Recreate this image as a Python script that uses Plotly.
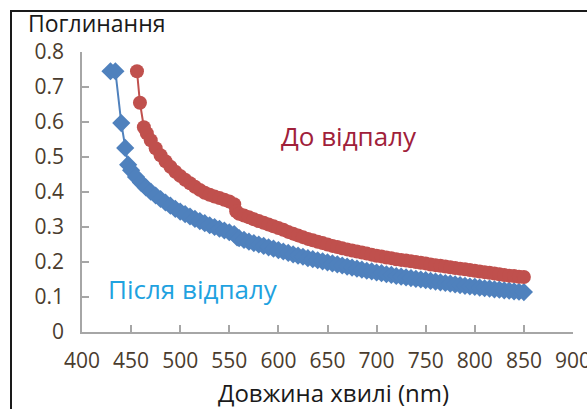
import plotly.graph_objects as go

# Absorbance spectra of the film before and after annealing
wl_before = [456, 459, 463, 466, 470, 475, 480, 485, 490, 495, 500, 505, 510, 515, 520,
             525, 530, 535, 540, 545, 550, 555, 557, 560, 565, 570, 575, 580, 585, 590,
             595, 600, 605, 610, 615, 620, 625, 630, 635, 640, 645, 650, 655, 660, 665,
             670, 675, 680, 685, 690, 695, 700, 705, 710, 715, 720, 725, 730, 735, 740,
             745, 750, 755, 760, 765, 770, 775, 780, 785, 790, 795, 800, 805, 810, 815,
             820, 825, 830, 835, 840, 845, 850]
abs_before = [0.745, 0.655, 0.585, 0.568, 0.548, 0.525, 0.505, 0.488, 0.472, 0.458, 0.446,
              0.435, 0.425, 0.415, 0.406, 0.398, 0.392, 0.387, 0.383, 0.378, 0.373, 0.365,
              0.345, 0.338, 0.333, 0.328, 0.322, 0.317, 0.312, 0.307, 0.302, 0.297, 0.292,
              0.286, 0.281, 0.276, 0.271, 0.266, 0.262, 0.258, 0.254, 0.250, 0.246, 0.243,
              0.239, 0.236, 0.233, 0.230, 0.227, 0.224, 0.221, 0.218, 0.216, 0.213, 0.211,
              0.208, 0.206, 0.204, 0.202, 0.200, 0.198, 0.196, 0.193, 0.191, 0.189, 0.187,
              0.185, 0.183, 0.181, 0.179, 0.177, 0.175, 0.173, 0.171, 0.169, 0.167, 0.165,
              0.163, 0.161, 0.160, 0.158, 0.157]

wl_after = [429, 434, 440, 444, 447, 450, 455, 460, 465, 470, 475, 480, 485, 490, 495, 500,
            505, 510, 515, 520, 525, 530, 535, 540, 545, 550, 555, 558, 560, 565, 570, 575,
            580, 585, 590, 595, 600, 605, 610, 615, 620, 625, 630, 635, 640, 645, 650, 655,
            660, 665, 670, 675, 680, 685, 690, 695, 700, 705, 710, 715, 720, 725, 730, 735,
            740, 745, 750, 755, 760, 765, 770, 775, 780, 785, 790, 795, 800, 805, 810, 815,
            820, 825, 830, 835, 840, 845, 850]
abs_after = [0.745, 0.745, 0.597, 0.526, 0.478, 0.462, 0.443, 0.427, 0.413, 0.401, 0.390,
             0.380, 0.370, 0.361, 0.352, 0.344, 0.337, 0.330, 0.323, 0.317, 0.311, 0.305,
             0.300, 0.295, 0.290, 0.285, 0.280, 0.270, 0.268, 0.263, 0.258, 0.254, 0.250,
             0.246, 0.242, 0.238, 0.234, 0.230, 0.226, 0.222, 0.218, 0.215, 0.211, 0.208,
             0.205, 0.202, 0.199, 0.196, 0.193, 0.190, 0.187, 0.184, 0.181, 0.178, 0.175,
             0.173, 0.170, 0.168, 0.165, 0.163, 0.160, 0.158, 0.156, 0.154, 0.152, 0.150,
             0.148, 0.146, 0.144, 0.142, 0.140, 0.138, 0.136, 0.134, 0.132, 0.130, 0.129,
             0.127, 0.125, 0.124, 0.122, 0.121, 0.119, 0.118, 0.116, 0.115, 0.114]

x_ticks = [400, 450, 500, 550, 600, 650, 700, 750, 800, 850, 900]
y_ticks = [0, 0.1, 0.2, 0.3, 0.4, 0.5, 0.6, 0.7, 0.8]
y_tick_text = ["0", "0.1", "0.2", "0.3", "0.4", "0.5", "0.6", "0.7", "0.8"]

RED = "#C0504D"
BLUE = "#4F81BD"
TICK_COLOR = "#4a3c2e"
FONT = "Open Sans"

fig = go.Figure()
fig.add_trace(go.Scatter(
    x=wl_after, y=abs_after, mode="lines+markers",
    line=dict(color=BLUE, width=2),
    marker=dict(symbol="diamond", size=14, color=BLUE),
    showlegend=False,
))
fig.add_trace(go.Scatter(
    x=wl_before, y=abs_before, mode="lines+markers",
    line=dict(color=RED, width=2),
    marker=dict(symbol="circle", size=14, color=RED),
    showlegend=False,
))

axis_common = dict(
    showgrid=False, zeroline=False, showline=True,
    linecolor="#a6a6a6", linewidth=1.5,
    ticks="inside", ticklen=7, tickcolor="#a6a6a6", tickwidth=1.5,
    tickfont=dict(family=FONT, size=21, color=TICK_COLOR),
    ticklabeloverflow="allow", automargin=False,
)

fig.update_xaxes(range=[400, 900], tickvals=x_ticks, ticklabelstandoff=9, **axis_common)
fig.update_yaxes(range=[0, 0.8], tickvals=y_ticks, ticktext=y_tick_text,
                 ticklabelstandoff=12, **axis_common)

annotations = [
    dict(text="Поглинання", x=26, y=23, size=23, color="#1a1a1a"),
    dict(text="Довжина хвилі (nm)", x=333, y=392, size=24, color="#1a1a1a"),
    dict(text="До відпалу", x=349, y=136, size=26, color="#A0203A"),
    dict(text="Після відпалу", x=193, y=289, size=26, color="#1FA2E0"),
]
W, H = 587, 409
L, R, T, B = 82, 14, 52, 77
for a in annotations:
    xanchor = "left" if a["text"] == "Поглинання" else "center"
    fig.add_annotation(
        text=a["text"], xref="paper", yref="paper",
        x=(a["x"] - L) / (W - L - R), y=1 - (a["y"] - T) / (H - T - B),
        xanchor=xanchor, yanchor="middle", showarrow=False,
        font=dict(family=FONT, size=a["size"], color=a["color"]),
    )

# outer frame around the whole chart
fig.add_shape(
    type="rect", xref="paper", yref="paper",
    x0=(11 - L) / (W - L - R), x1=(W + 20 - L) / (W - L - R),
    y0=1 - (H + 20 - T) / (H - T - B), y1=1 - (11 - T) / (H - T - B),
    line=dict(color="#1a1a1a", width=2), layer="below",
)

fig.update_layout(
    width=W, height=H,
    margin=dict(l=L, r=R, t=T, b=B, autoexpand=False),
    paper_bgcolor="white", plot_bgcolor="white",
    font=dict(family=FONT),
)

fig.write_html("out.html")
